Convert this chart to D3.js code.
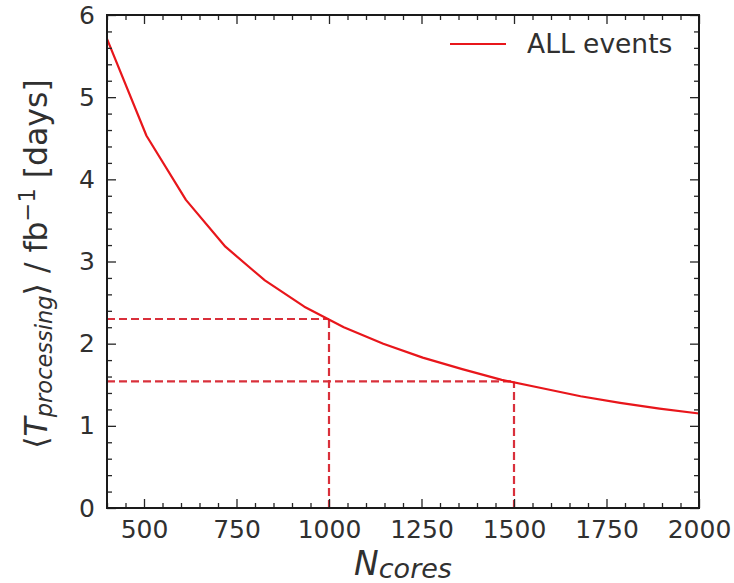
<!DOCTYPE html>
<html><head><meta charset="utf-8">
<script src="https://cdn.jsdelivr.net/npm/d3@7"></script>
<style>body{margin:0;background:#fff;} text{font-family:"DejaVu Sans",sans-serif;fill:#303030;}</style>
</head><body>
<svg id="c" width="734" height="583"></svg>
<script>
const nCores = [400, 506.7, 613.3, 720, 826.7, 933.3, 1040, 1146.7, 1253.3, 1360, 1466.7, 1573.3, 1680, 1786.7, 1893.3, 2000];
const tProc  = [5.71, 4.53, 3.75, 3.18, 2.77, 2.45, 2.20, 2.00, 1.83, 1.69, 1.56, 1.46, 1.36, 1.28, 1.21, 1.15];
const markN = [1000, 1500];
const markT = [2.30, 1.54];
const xTicks = [500, 750, 1000, 1250, 1500, 1750, 2000];
const yTicks = [0, 1, 2, 3, 4, 5, 6];
const seriesName = "ALL events";

const svg = d3.select("#c");
const L = 107, R = 699, T = 15, B = 508;
const x = d3.scaleLinear().domain([400, 2000]).range([L, R]);
const y = d3.scaleLinear().domain([0, 6]).range([B, T]);
const red = "#e8161b";
const dashRed = "#d9303b";

// dashed guide lines
markN.forEach((n, i) => {
  svg.append("line").attr("x1", x(400)).attr("x2", x(n)).attr("y1", y(markT[i])).attr("y2", y(markT[i]))
    .attr("stroke", dashRed).attr("stroke-width", 2.2).attr("stroke-dasharray", "8,4");
  svg.append("line").attr("x1", x(n)).attr("x2", x(n)).attr("y1", y(0)).attr("y2", y(markT[i]))
    .attr("stroke", dashRed).attr("stroke-width", 2.2).attr("stroke-dasharray", "8,4");
});

// curve
svg.append("path").datum(nCores.map((n, i) => [n, tProc[i]]))
  .attr("d", d3.line().x(d => x(d[0])).y(d => y(d[1])))
  .attr("fill", "none").attr("stroke", red).attr("stroke-width", 2.2).attr("stroke-linejoin", "round");

// axes (ticks inward on all four sides)
const xMinor = d3.range(400, 2001, 50).filter(v => v % 250 !== 0);
const yMinor = d3.range(0, 6.01, 0.2).filter(v => Math.abs(v - Math.round(v)) > 1e-6);
const blank = () => "";
const intFmt = d3.format("d");
svg.append("g").attr("transform", `translate(0,${B})`).call(d3.axisBottom(x).tickValues(xTicks).tickFormat(intFmt).tickSize(-9).tickPadding(12).tickSizeOuter(0)).call(g => g.select(".domain").remove()).call(g => g.selectAll("text").attr("font-size", 25).attr("dy", "0.72em"));
svg.append("g").attr("transform", `translate(0,${B})`).call(d3.axisBottom(x).tickValues(xMinor).tickSize(-5).tickFormat(blank).tickSizeOuter(0)).call(g => g.select(".domain").remove());
svg.append("g").attr("transform", `translate(0,${T})`).call(d3.axisTop(x).tickValues(xTicks).tickSize(-9).tickFormat(blank).tickSizeOuter(0)).call(g => g.select(".domain").remove());
svg.append("g").attr("transform", `translate(0,${T})`).call(d3.axisTop(x).tickValues(xMinor).tickSize(-5).tickFormat(blank).tickSizeOuter(0)).call(g => g.select(".domain").remove());
svg.append("g").attr("transform", `translate(${L},0)`).call(d3.axisLeft(y).tickValues(yTicks).tickFormat(intFmt).tickSize(-9).tickPadding(12).tickSizeOuter(0)).call(g => g.select(".domain").remove()).call(g => g.selectAll("text").attr("font-size", 25));
svg.append("g").attr("transform", `translate(${L},0)`).call(d3.axisLeft(y).tickValues(yMinor).tickSize(-5).tickFormat(blank).tickSizeOuter(0)).call(g => g.select(".domain").remove());
svg.append("g").attr("transform", `translate(${R},0)`).call(d3.axisRight(y).tickValues(yTicks).tickSize(-9).tickFormat(blank).tickSizeOuter(0)).call(g => g.select(".domain").remove());
svg.append("g").attr("transform", `translate(${R},0)`).call(d3.axisRight(y).tickValues(yMinor).tickSize(-5).tickFormat(blank).tickSizeOuter(0)).call(g => g.select(".domain").remove());
svg.selectAll(".tick line").attr("stroke", "#262626").attr("stroke-width", 1.3);

svg.append("rect").attr("x", L).attr("y", T).attr("width", R - L).attr("height", B - T)
  .attr("fill", "none").attr("stroke", "#1a1a1a").attr("stroke-width", 2);

// legend
svg.append("line").attr("x1", 450).attr("x2", 506).attr("y1", 44).attr("y2", 44).attr("stroke", red).attr("stroke-width", 2.2);
svg.append("text").attr("x", 527).attr("y", 53).attr("font-size", 26.5).text(seriesName);

// x label
const xl = svg.append("text").attr("x", 403).attr("y", 575).attr("text-anchor", "middle").attr("font-size", 33);
xl.append("tspan").attr("font-style", "italic").text("N");
xl.append("tspan").attr("font-style", "italic").attr("font-size", 27).attr("dy", 3).text("cores");

// y label
const yl = svg.append("text").attr("transform", `translate(47,264) rotate(-90)`).attr("text-anchor", "middle").attr("font-size", 31.5);
yl.append("tspan").text("\u27E8");
yl.append("tspan").attr("font-style", "italic").text("T");
yl.append("tspan").attr("font-style", "italic").attr("font-size", 22.5).attr("dy", 5).text("processing");
yl.append("tspan").attr("dy", -5).text("\u27E9 / fb");
yl.append("tspan").attr("font-size", 22.5).attr("dy", -12).text("\u22121");
yl.append("tspan").attr("dy", 12).text(" [days]");
</script>
</body></html>
